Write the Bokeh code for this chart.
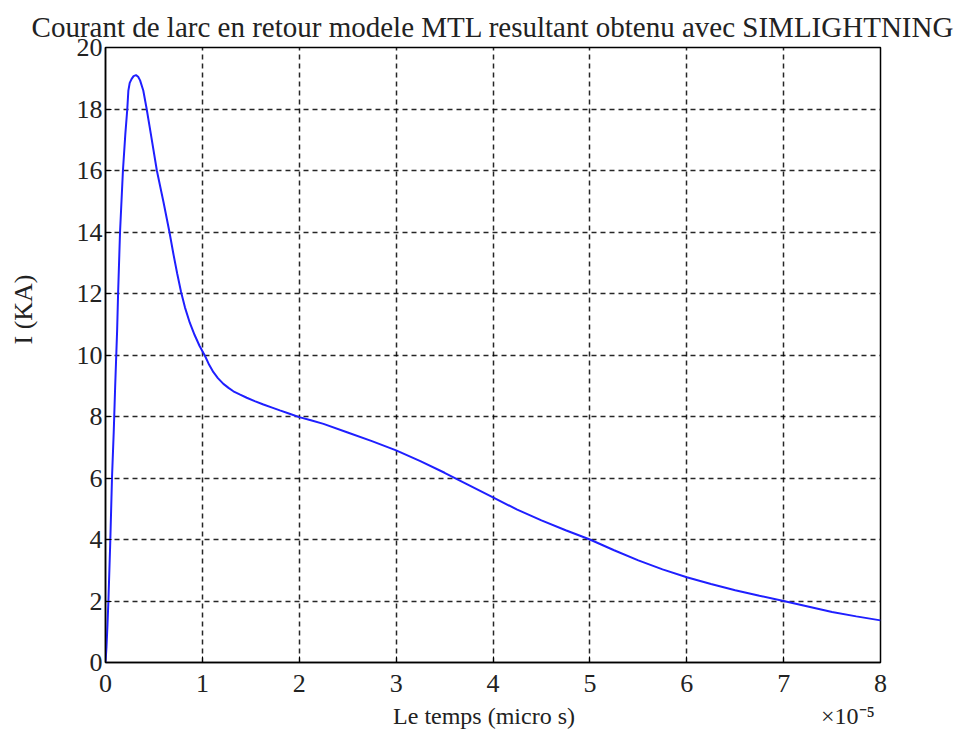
from bokeh.plotting import figure
from bokeh.models import FixedTicker, Range1d
from bokeh.embed import file_html
from bokeh.resources import INLINE

# time in units of 1e-5 s, current in kA
t_vals = [0.0, 0.01, 0.02, 0.03, 0.05, 0.067, 0.085, 0.10, 0.12, 0.13, 0.15,
          0.18, 0.205, 0.225, 0.236, 0.25, 0.27, 0.29, 0.315, 0.337, 0.357,
          0.39, 0.425, 0.47, 0.53, 0.60, 0.66, 0.70, 0.74, 0.78, 0.82, 0.87,
          0.92, 0.97, 1.03, 1.07, 1.114, 1.16, 1.217, 1.27, 1.32, 1.39, 1.458,
          1.54, 1.63, 1.72, 1.80, 1.90, 2.00, 2.12, 2.25, 2.50, 2.75, 3.00,
          3.25, 3.50, 3.75, 4.00, 4.25, 4.50, 4.75, 5.00, 5.25, 5.50, 5.75,
          6.00, 6.25, 6.50, 6.75, 7.00, 7.25, 7.50, 7.75, 8.00]
i_vals = [0.0, 0.5, 1.2, 2.0, 4.0, 6.0, 7.5, 9.0, 10.8, 12.0, 14.0,
          16.0, 17.2, 18.0, 18.6, 18.85, 18.98, 19.07, 19.1, 19.05, 18.93,
          18.6, 18.0, 17.15, 16.0, 14.95, 14.0, 13.3, 12.65, 12.05, 11.55, 11.05,
          10.65, 10.3, 9.95, 9.68, 9.44, 9.25, 9.06, 8.93, 8.82, 8.71, 8.61,
          8.5, 8.39, 8.29, 8.2, 8.09, 7.98, 7.88, 7.76, 7.48, 7.2, 6.9,
          6.55, 6.17, 5.77, 5.37, 4.97, 4.62, 4.3, 4.0, 3.65, 3.32, 3.03,
          2.77, 2.55, 2.35, 2.17, 2.0, 1.82, 1.64, 1.5, 1.37]

x_ticks = [0, 1, 2, 3, 4, 5, 6, 7, 8]
y_ticks = [0, 2, 4, 6, 8, 10, 12, 14, 16, 18, 20]

title_text = "Courant de larc en retour modele MTL resultant obtenu avec SIMLIGHTNING"
x_label = "Le temps (micro s)"
x_scale_note = "\u00d710\u207b\u2075"
y_label = "I (KA)"

FONT = "Liberation Serif"
NB = "\u00a0"

# x label with the scale factor placed on the same line, far right
x_label_full = NB * 47 + x_label + NB * 41 + x_scale_note

p = figure(width=960, height=739, output_backend="svg", toolbar_location=None,
           x_range=Range1d(0, 8), y_range=Range1d(0, 20),
           min_border_left=105, min_border_right=80, min_border_top=47,
           min_border_bottom=77, x_axis_label=x_label_full,
           y_axis_label=NB * 14 + y_label)

p.title.text = title_text
p.title.align = "center"
p.title.text_font = FONT
p.title.text_font_size = "29px"
p.title.text_font_style = "normal"
p.title.text_color = "#222222"
p.title.offset = 0
p.title.standoff = 10

p.background_fill_color = "white"
p.border_fill_color = "white"
p.outline_line_color = "black"
p.outline_line_width = 1.5

for ax in p.xaxis + p.yaxis:
    ax.major_label_text_font = FONT
    ax.major_label_text_font_size = "26px"
    ax.major_label_text_color = "#222222"
    ax.axis_label_text_font = FONT
    ax.axis_label_text_font_style = "normal"
    ax.axis_label_text_color = "#222222"
    ax.major_tick_in = 6
    ax.major_tick_out = 0
    ax.minor_tick_line_color = None
    ax.axis_line_color = "black"
    ax.axis_line_width = 1.5
    ax.major_tick_line_color = "black"

p.xaxis.axis_label_text_font_size = "24px"
p.yaxis.axis_label_text_font_size = "26px"
p.xaxis.ticker = FixedTicker(ticks=x_ticks)
p.yaxis.ticker = FixedTicker(ticks=y_ticks)
p.xaxis.major_label_standoff = 12
p.yaxis.major_label_standoff = 3
p.xaxis.axis_label_standoff = 8
p.yaxis.axis_label_standoff = 36

for g in (p.xgrid, p.ygrid):
    g.grid_line_color = "black"
    g.grid_line_dash = "5 4"
    g.grid_line_width = 1.5
    g.grid_line_alpha = 0.85
p.xgrid.ticker = FixedTicker(ticks=x_ticks[1:-1])
p.ygrid.ticker = FixedTicker(ticks=y_ticks[1:-1])

p.line(t_vals, i_vals, line_color="#1f1fff", line_width=2)

open("out.html", "w").write(file_html(p, INLINE))
